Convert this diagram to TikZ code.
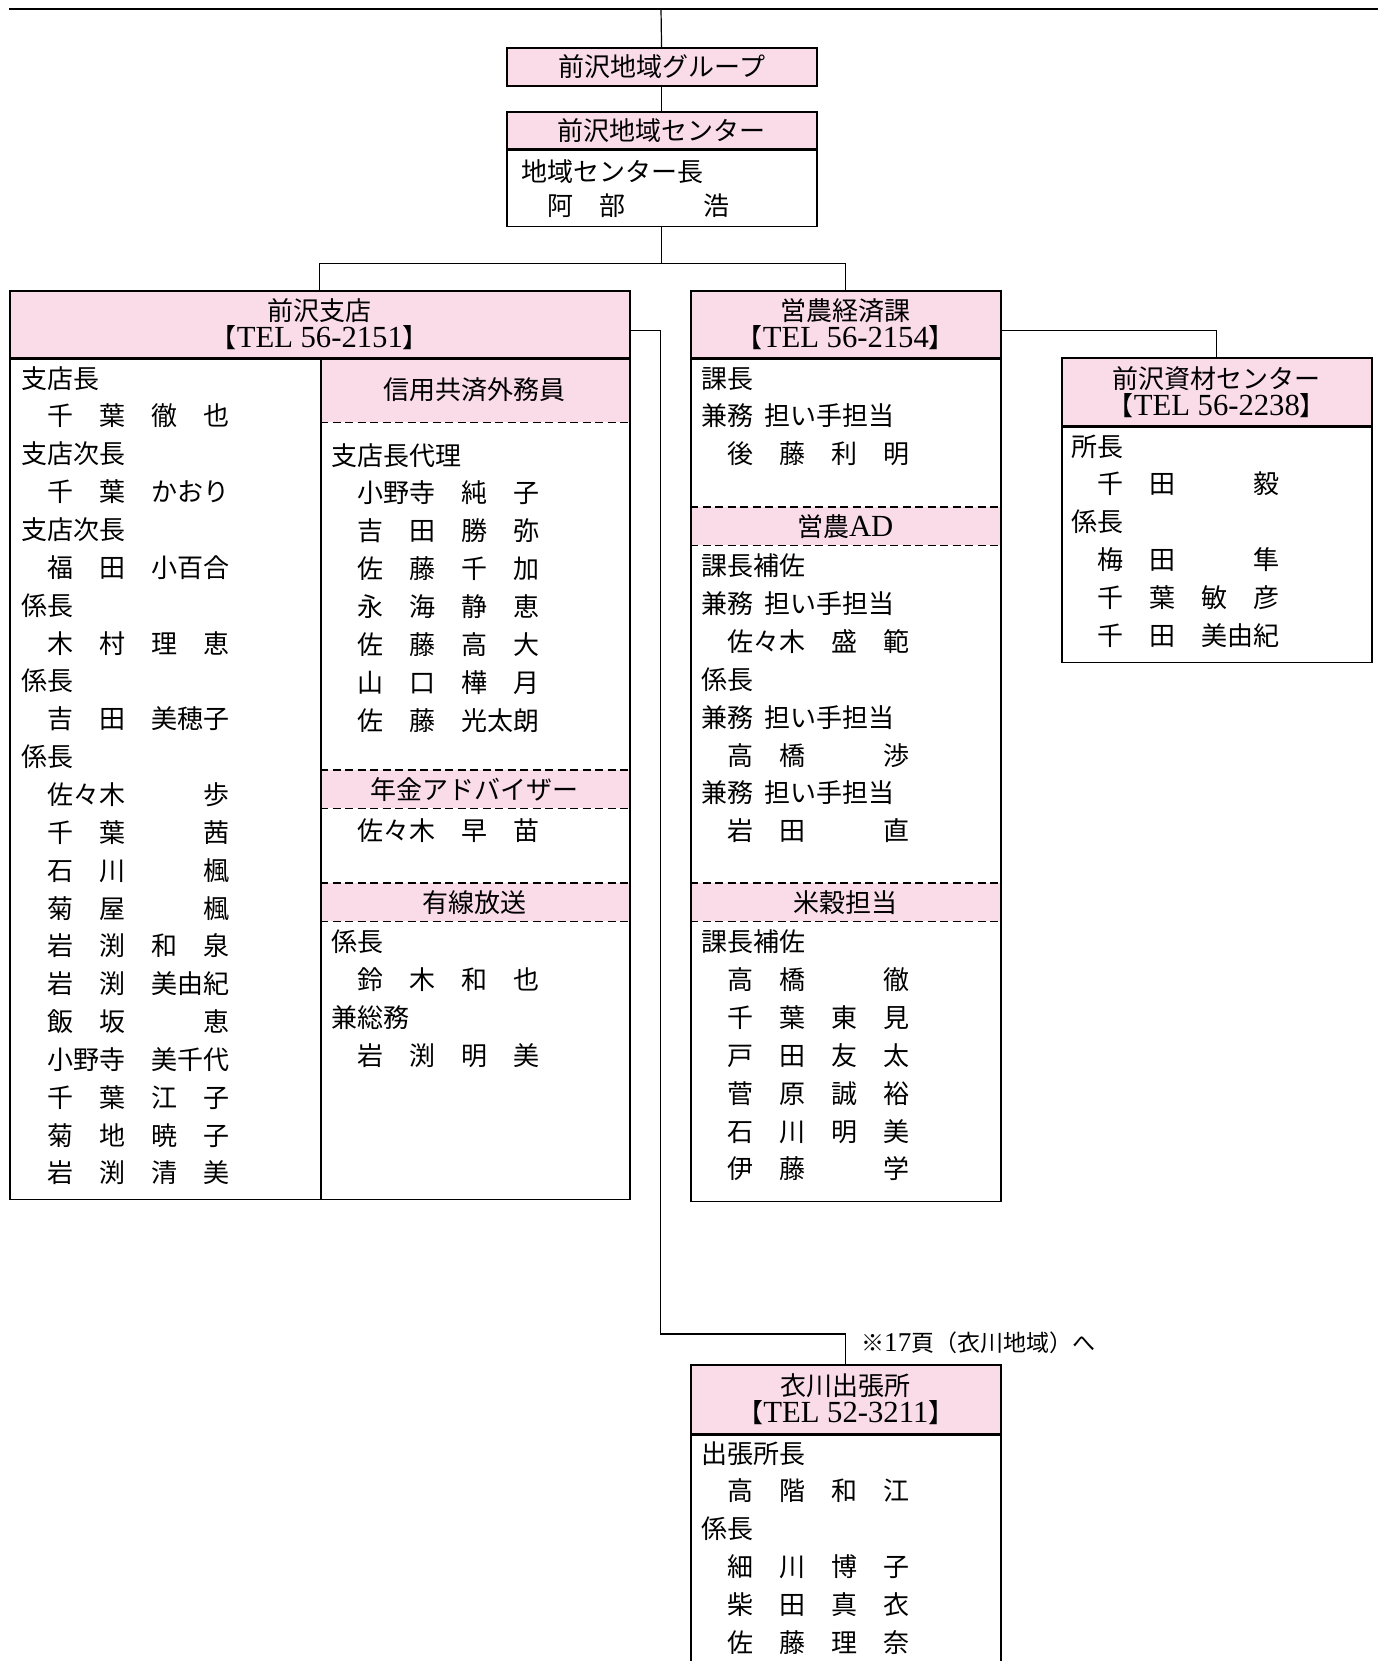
\documentclass[tikz,border=0pt]{standalone}
\usepackage{fontspec}
\setmainfont{Noto Sans CJK JP}
\newfontfamily\latinfont[Scale=1.18]{Liberation Serif}
\usepackage{xcolor}
\usepackage{tikz}
\usetikzlibrary{backgrounds}
\definecolor{hdrpink}{RGB}{250,220,233}
\newcommand\tel[1]{【{\latinfont TEL #1}】}
\newcommand\rowstrut{\rule{0pt}{24pt}}
\newcommand\kenmu{兼務\hspace{.4em}担い手担当}
\newcommand\bodyfont{\fontsize{26}{37.85}\selectfont}
\newcommand\hdrfont{\fontsize{26}{27}\selectfont}
\tikzset{
	boxline/.style={line width=1.7pt},
	wire/.style={line width=1.2pt},
	hdr/.style={draw,boxline,fill=hdrpink,anchor=north west,inner sep=0pt,align=center,font=\hdrfont},
	bodybox/.style={draw,boxline,anchor=north west,inner sep=0pt},
	subhdr/.style={fill=hdrpink,anchor=north west,inner sep=0pt,font=\hdrfont},
	dashline/.style={line width=1.8pt,dash pattern=on 8pt off 4.5pt},
	namelist/.style={anchor=north west,inner sep=0pt,align=left,font=\bodyfont},
}
\begin{document}
\begin{tikzpicture}[x=1pt,y=-1pt]
	\useasboundingbox (0,0) rectangle (1378,1661);
	\clip (0,0) rectangle (1378,1661);
	\draw[line width=2.4pt] (9,9) -- (1378,9);
	\coordinate (rule mid) at (661,9);
	\node[hdr,minimum width=310pt,minimum height=38pt] (grp) at (506,47) {前沢地域グループ};
	\node[hdr,minimum width=310pt,minimum height=37pt] (ctr) at (506,111) {前沢地域センター};
	\node[bodybox,minimum width=310pt,minimum height=76pt] (ctr body) at (ctr.south west) {};
	\node[namelist,font=\fontsize{26}{33.3}\selectfont] (ctr names) at (521.7,157.6) {\rowstrut 地域センター長\\　阿　部　　　浩};
	\draw[wire] (rule mid) -- (grp);
	\draw[wire] (grp) -- (ctr);
	\node[hdr,minimum width=620pt,minimum height=67pt] (shiten) at (9,290) {前沢支店\\\tel{56-2151}};
	\node[bodybox,minimum width=620pt,minimum height=840pt] (shiten body) at (shiten.south west) {};
	\node[hdr,minimum width=310pt,minimum height=67pt] (einou) at (690,290) {営農経済課\\\tel{56-2154}};
	\node[bodybox,minimum width=310pt,minimum height=842pt] (einou body) at (einou.south west) {};
	\node[hdr,minimum width=310pt,minimum height=68pt] (shizai) at (1061,357) {前沢資材センター\\\tel{56-2238}};
	\node[bodybox,minimum width=310pt,minimum height=235pt] (shizai body) at (shizai.south west) {};
	\node[hdr,minimum width=310pt,minimum height=69pt] (koro) at (690,1364) {衣川出張所\\\tel{52-3211}};
	\node[bodybox,minimum width=310pt,minimum height=300pt] (koro body) at (koro.south west) {};
	\draw[wire] (ctr body.south) -- ++(0,36) coordinate (fork);
	\draw[wire] (shiten.north) |- (fork) -| (einou.north);
	\draw[wire] ([yshift=-6pt]shiten.east) -- ++(30,0) |- ([yshift=30pt]koro.north) -- (koro.north);
	\draw[wire] ([yshift=-6pt]einou.east) -| (shizai.north);
	\node[anchor=west,inner sep=0pt,font=\fontsize{23}{23}\selectfont] (koro note) at (861,1343) {※{\latinfont 17}頁（衣川地域）へ};
	\begin{scope}[on background layer]
		\node[subhdr,minimum width=309pt,minimum height=64pt] (shinyo) at (320,358) {信用共済外務員};
		\node[subhdr,minimum width=309pt,minimum height=38pt] (nenkin) at (320,770) {年金アドバイザー};
		\node[subhdr,minimum width=309pt,minimum height=38pt] (yusen) at (320,883) {有線放送};
		\node[subhdr,minimum width=310pt,minimum height=38pt] (eino ad) at (690,507) {営農{\latinfont AD}};
		\node[subhdr,minimum width=310pt,minimum height=38pt] (beikoku) at (690,883) {米穀担当};
	\end{scope}
	\draw[boxline] ([xshift=1pt]shiten body.north) -- ([xshift=1pt]shiten body.south);
	\draw[dashline] (shinyo.south west) -- (shinyo.south east);
	\draw[dashline] (nenkin.north west) -- (nenkin.north east) (nenkin.south west) -- (nenkin.south east);
	\draw[dashline] (yusen.north west) -- (yusen.north east) (yusen.south west) -- (yusen.south east);
	\draw[dashline] (eino ad.north west) -- (eino ad.north east) (eino ad.south west) -- (eino ad.south east);
	\draw[dashline] (beikoku.north west) -- (beikoku.north east) (beikoku.south west) -- (beikoku.south east);
	\node[namelist] (shiten staff) at (21,363.9) {\rowstrut 支店長\\　千　葉　徹　也\\支店次長\\　千　葉　かおり\\支店次長\\　福　田　小百合\\係長\\　木　村　理　恵\\係長\\　吉　田　美穂子\\係長\\　佐々木　　　歩\\　千　葉　　　茜\\　石　川　　　楓\\　菊　屋　　　楓\\　岩　渕　和　泉\\　岩　渕　美由紀\\　飯　坂　　　恵\\　小野寺　美千代\\　千　葉　江　子\\　菊　地　暁　子\\　岩　渕　清　美};
	\node[namelist] (shinyo staff) at (331,440.9) {\rowstrut 支店長代理\\　小野寺　純　子\\　吉　田　勝　弥\\　佐　藤　千　加\\　永　海　静　恵\\　佐　藤　高　大\\　山　口　樺　月\\　佐　藤　光太朗};
	\node[namelist] (nenkin staff) at (331,815.9) {\rowstrut 　佐々木　早　苗};
	\node[namelist] (yusen staff) at (331,927.6) {\rowstrut 係長\\　鈴　木　和　也\\兼総務\\　岩　渕　明　美};
	\node[namelist] (einou staff) at (701.5,363.9) {\rowstrut 課長\\\kenmu\\　後　藤　利　明};
	\node[namelist] (eino ad staff) at (701.5,551.6) {\rowstrut 課長補佐\\\kenmu\\　佐々木　盛　範\\係長\\\kenmu\\　高　橋　　　渉\\\kenmu\\　岩　田　　　直};
	\node[namelist] (beikoku staff) at (701.5,927.6) {\rowstrut 課長補佐\\　高　橋　　　徹\\　千　葉　東　見\\　戸　田　友　太\\　菅　原　誠　裕\\　石　川　明　美\\　伊　藤　　　学};
	\node[namelist] (shizai staff) at (1071.7,431.9) {\rowstrut 所長\\　千　田　　　毅\\係長\\　梅　田　　　隼\\　千　葉　敏　彦\\　千　田　美由紀};
	\node[namelist] (koro staff) at (701.5,1438.9) {\rowstrut 出張所長\\　高　階　和　江\\係長\\　細　川　博　子\\　柴　田　真　衣\\　佐　藤　理　奈};
\end{tikzpicture}
\end{document}
